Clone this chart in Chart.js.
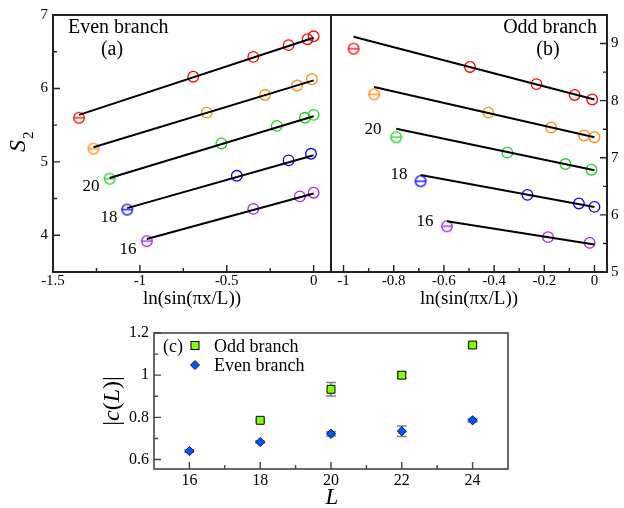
<!DOCTYPE html>
<html>
<head>
<meta charset="utf-8">
<script src="https://cdn.jsdelivr.net/npm/chart.js@4.4.1/dist/chart.umd.min.js"></script>
<style>
  html, body { margin: 0; padding: 0; background: #fff; }
  #wrap { position: relative; width: 624px; height: 508px; }
  canvas { position: absolute; left: 0; top: 0; }
</style>
</head>
<body>
<div id="wrap">
  <canvas id="chartA" width="624" height="508"></canvas>
  <canvas id="chartB" width="624" height="508"></canvas>
  <canvas id="chartC" width="624" height="508"></canvas>
</div>
<script>
// system sizes, top curve first
const sizes = [24, 22, 20, 18, 16];

// (a) even branch: x = ln(sin(pi x/L)), y = S2
const evenX24 = [-1.35, -0.693, -0.347, -0.144, -0.035, 0];
const evenY24 = [5.60, 6.16, 6.43, 6.59, 6.67, 6.71];
const evenX22 = [-1.267, -0.615, -0.280, -0.095, -0.010];
const evenY22 = [5.18, 5.67, 5.91, 6.04, 6.125];
const evenX20 = [-1.174, -0.531, -0.212, -0.050, 0];
const evenY20 = [4.77, 5.25, 5.49, 5.60, 5.64];
const evenX18 = [-1.073, -0.442, -0.144, -0.015];
const evenY18 = [4.35, 4.81, 5.02, 5.11];
const evenX16 = [-0.960, -0.347, -0.079, 0];
const evenY16 = [3.92, 4.36, 4.53, 4.58];
// fitted lines, y at first x and at x = 0
const evenFit24 = [5.64, 6.69];
const evenFit22 = [5.20, 6.11];
const evenFit20 = [4.78, 5.62];
const evenFit18 = [4.37, 5.09];
const evenFit16 = [3.95, 4.57];

// (b) odd branch
const oddX24 = [-0.960, -0.496, -0.231, -0.079, -0.009];
const oddY24 = [8.91, 8.59, 8.29, 8.10, 8.02];
const oddX22 = [-0.878, -0.423, -0.173, -0.041, 0];
const oddY22 = [8.11, 7.79, 7.53, 7.39, 7.36];
const oddX20 = [-0.790, -0.347, -0.116, -0.012];
const oddY20 = [7.36, 7.09, 6.89, 6.79];
const oddX18 = [-0.693, -0.267, -0.062, 0];
const oddY18 = [6.59, 6.35, 6.20, 6.14];
const oddX16 = [-0.588, -0.185, -0.019];
const oddY16 = [5.80, 5.61, 5.51];
const oddFit24 = [9.12, 8.02];
const oddFit22 = [8.24, 7.36];
const oddFit20 = [7.51, 6.78];
const oddFit18 = [6.70, 6.14];
const oddFit16 = [5.89, 5.48];

// (c) |c(L)|
const cOddL = [18, 20, 22, 24];
const cOdd = [0.786, 0.933, 1.0, 1.143];
const cOddErr = [0.006, 0.032, 0.015, 0.007];
const cEvenL = [16, 18, 20, 22, 24];
const cEven = [0.640, 0.683, 0.722, 0.734, 0.786];
const cEvenErr = [0.005, 0.005, 0.010, 0.025, 0.008];

// ticks
const aTicksX = [-1.5, -1, -0.5, 0], aMinorX = [-1.25, -0.75, -0.25];
const aTicksY = [4, 5, 6, 7], aMinorY = [4.5, 5.5, 6.5];
const bTicksX = [-1, -0.8, -0.6, -0.4, -0.2, 0], bMinorX = [-0.9, -0.7, -0.5, -0.3, -0.1];
const bTicksY = [5, 6, 7, 8, 9], bMinorY = [5.5, 6.5, 7.5, 8.5];
const cTicksX = [16, 18, 20, 22, 24], cMinorX = [17, 19, 21, 23];
const cTicksY = [0.6, 0.8, 1, 1.2], cMinorY = [0.7, 0.9, 1.1];

const colors = ['#ff0000', '#ff8c00', '#22cc22', '#0000ff', '#a020f0'];
const serif = "'Liberation Serif', 'DejaVu Serif', serif";

Chart.defaults.font.family = serif;
Chart.defaults.color = '#000';

// circle with a dash through it (first point of each curve)
function barCircle(color) {
  const c = document.createElement('canvas');
  c.width = c.height = 14;
  const g = c.getContext('2d');
  g.strokeStyle = color;
  g.lineWidth = 1.3;
  g.beginPath(); g.arc(7, 7, 5.3, 0, Math.PI * 2); g.stroke();
  g.beginPath(); g.moveTo(1.7, 7); g.lineTo(12.3, 7); g.stroke();
  return c;
}

function pts(xs, ys) {
  return xs.map((x, i) => ({x: x, y: ys[i]}));
}

function branchSets(xsList, ysList, fitList) {
  const sets = [];
  xsList.forEach((xs, k) => {
    sets.push({
      data: [{x: xs[0], y: fitList[k][0]}, {x: 0, y: fitList[k][1]}],
      showLine: true, borderColor: '#000', borderWidth: 2, pointRadius: 0
    });
  });
  xsList.forEach((xs, k) => {
    const dash = barCircle(colors[k]);
    sets.push({
      data: pts(xs, ysList[k]),
      pointStyle: c => c.dataIndex === 0 ? dash : 'circle',
      pointRadius: 5.3, borderWidth: 1.3,
      borderColor: colors[k], backgroundColor: 'rgba(0,0,0,0)'
    });
  });
  return sets;
}

function fixTicks(vals) {
  return s => { s.ticks = vals.map(v => ({value: v})); };
}

// frame, inward ticks and tick labels, placed with the chart's scales
function frameTicks(minorX, minorY, yRight, color, width, font, xLabelY, yLabelGap) {
  return {
    id: 'frameTicks',
    afterDatasetsDraw(chart) {
      const {ctx, chartArea: a} = chart;
      const sx = chart.scales.x, sy = chart.scales.y;
      ctx.save();
      ctx.strokeStyle = color;
      ctx.lineWidth = 1.4;
      ctx.beginPath();
      const xt = (v, len) => {
        const p = sx.getPixelForValue(v);
        ctx.moveTo(p, a.bottom); ctx.lineTo(p, a.bottom - len);
      };
      const yt = (v, len) => {
        const p = sy.getPixelForValue(v);
        if (yRight) { ctx.moveTo(a.right, p); ctx.lineTo(a.right - len, p); }
        else { ctx.moveTo(a.left, p); ctx.lineTo(a.left + len, p); }
      };
      sx.ticks.forEach(t => xt(t.value, 7));
      minorX.forEach(v => xt(v, 4));
      sy.ticks.forEach(t => yt(t.value, 7));
      minorY.forEach(v => yt(v, 4));
      ctx.stroke();
      ctx.lineWidth = width;
      ctx.strokeRect(a.left, a.top, a.right - a.left, a.bottom - a.top);

      ctx.fillStyle = '#000';
      ctx.font = font + 'px ' + serif;
      ctx.textBaseline = 'middle';
      ctx.textAlign = 'center';
      sx.ticks.forEach(t => ctx.fillText(String(t.value), sx.getPixelForValue(t.value), xLabelY));
      ctx.textAlign = yRight ? 'left' : 'right';
      const lx = yRight ? a.right + yLabelGap : a.left - yLabelGap;
      sy.ticks.forEach(t => ctx.fillText(String(t.value), lx, sy.getPixelForValue(t.value)));
      ctx.restore();
    }
  };
}

function textPlugin(draw) {
  return { id: 'texts', afterDraw(chart) { const ctx = chart.ctx; ctx.save(); ctx.fillStyle = '#000'; draw(ctx, chart); ctx.restore(); } };
}

function txt(ctx, s, x, y, size, align, style) {
  ctx.font = (style ? style + ' ' : '') + size + 'px ' + serif;
  ctx.textAlign = align || 'center';
  ctx.textBaseline = 'middle';
  ctx.fillText(s, x, y);
}

// draw parts with mixed italic, centred on x
function mixed(ctx, parts, x, y, size) {
  let w = 0;
  parts.forEach(p => { ctx.font = (p[1] ? 'italic ' : '') + size + 'px ' + serif; w += ctx.measureText(p[0]).width; });
  let cx = x - w / 2;
  ctx.textAlign = 'left';
  ctx.textBaseline = 'middle';
  parts.forEach(p => {
    ctx.font = (p[1] ? 'italic ' : '') + size + 'px ' + serif;
    ctx.fillText(p[0], cx, y);
    cx += ctx.measureText(p[0]).width;
  });
}

function baseScales(xr, yr, yPos, xTicks, yTicks) {
  return {
    x: {
      type: 'linear', position: 'bottom', min: xr[0], max: xr[1],
      grid: {display: false}, border: {display: false},
      afterBuildTicks: fixTicks(xTicks),
      afterFit: s => { s.height = 0; },
      ticks: {display: false}
    },
    y: {
      type: 'linear', position: yPos, min: yr[0], max: yr[1],
      grid: {display: false}, border: {display: false},
      afterBuildTicks: fixTicks(yTicks),
      afterFit: s => { s.width = 0; },
      ticks: {display: false}
    }
  };
}

const common = {
  responsive: false, animation: false, devicePixelRatio: 1,
  plugins: {legend: {display: false}, tooltip: {enabled: false}}
};

// (a)
new Chart(document.getElementById('chartA'), {
  type: 'scatter',
  data: {datasets: branchSets([evenX24, evenX22, evenX20, evenX18, evenX16],
                              [evenY24, evenY22, evenY20, evenY18, evenY16],
                              [evenFit24, evenFit22, evenFit20, evenFit18, evenFit16])},
  options: Object.assign({}, common, {
    layout: {autoPadding: false, padding: {left: 53, right: 293, top: 15, bottom: 236}},
    scales: baseScales([-1.5, 0.1], [3.5, 7], 'left', aTicksX, aTicksY)
  }),
  plugins: [frameTicks(aMinorX, aMinorY, false, '#222', 2, 15, 281, 5), textPlugin((ctx, chart) => {
    txt(ctx, 'Even branch', 68, 28, 20, 'left');
    txt(ctx, '(a)', 112, 50, 20);
    txt(ctx, String(sizes[2]), 91, 187, 17);
    txt(ctx, String(sizes[3]), 109, 218, 17);
    txt(ctx, String(sizes[4]), 128, 250, 17);
    const a = chart.chartArea;
    txt(ctx, 'ln(sin(\u03c0x/L))', (a.left + a.right) / 2, 299, 19);
    ctx.save();
    ctx.translate(25, 152);
    ctx.rotate(-Math.PI / 2);
    ctx.font = 'italic 24px ' + serif;
    ctx.textAlign = 'left';
    ctx.textBaseline = 'alphabetic';
    ctx.fillText('S', 0, 0);
    const w = ctx.measureText('S').width;
    ctx.font = '15px ' + serif;
    ctx.fillText('2', w + 1, 8);
    ctx.restore();
  })]
});

// (b)
new Chart(document.getElementById('chartB'), {
  type: 'scatter',
  data: {datasets: branchSets([oddX24, oddX22, oddX20, oddX18, oddX16],
                              [oddY24, oddY22, oddY20, oddY18, oddY16],
                              [oddFit24, oddFit22, oddFit20, oddFit18, oddFit16])},
  options: Object.assign({}, common, {
    layout: {autoPadding: false, padding: {left: 331, right: 17, top: 15, bottom: 236}},
    scales: baseScales([-1.05, 0.05], [5, 9.5], 'right', bTicksX, bTicksY)
  }),
  plugins: [frameTicks(bMinorX, bMinorY, true, '#222', 2, 15, 281, 4), textPlugin((ctx, chart) => {
    txt(ctx, 'Odd branch', 597, 28, 20, 'right');
    txt(ctx, '(b)', 548, 50, 20);
    txt(ctx, String(sizes[2]), 373, 130, 17);
    txt(ctx, String(sizes[3]), 399, 175, 17);
    txt(ctx, String(sizes[4]), 425, 222, 17);
    const a = chart.chartArea;
    txt(ctx, 'ln(sin(\u03c0x/L))', (a.left + a.right) / 2, 299, 19);
  })]
});

// (c)
const errorBars = {
  id: 'errorBars',
  beforeDatasetsDraw(chart) {
    const ctx = chart.ctx, sx = chart.scales.x, sy = chart.scales.y;
    ctx.save();
    ctx.strokeStyle = '#808080';
    ctx.lineWidth = 1.5;
    chart.data.datasets.forEach(ds => {
      ds.data.forEach((p, i) => {
        const e = ds.errors[i];
        const px = sx.getPixelForValue(p.x);
        const y1 = sy.getPixelForValue(p.y - e), y2 = sy.getPixelForValue(p.y + e);
        ctx.beginPath();
        ctx.moveTo(px, y1); ctx.lineTo(px, y2);
        ctx.moveTo(px - 5, y1); ctx.lineTo(px + 5, y1);
        ctx.moveTo(px - 5, y2); ctx.lineTo(px + 5, y2);
        ctx.stroke();
      });
    });
    ctx.restore();
  }
};

new Chart(document.getElementById('chartC'), {
  type: 'scatter',
  data: {datasets: [
    {label: 'Odd branch', data: pts(cOddL, cOdd), errors: cOddErr, pointStyle: 'rect', pointRadius: 5.6,
     backgroundColor: '#80ff00', borderColor: '#000', borderWidth: 1},
    {label: 'Even branch', data: pts(cEvenL, cEven), errors: cEvenErr, pointStyle: 'rectRot', pointRadius: 4.6,
     backgroundColor: '#0055ff', borderColor: '#001a4d', borderWidth: 1}
  ]},
  options: Object.assign({}, common, {
    layout: {autoPadding: false, padding: {left: 154, right: 116, top: 333, bottom: 39}},
    scales: baseScales([15, 25], [0.555, 1.2], 'left', cTicksX, cTicksY)
  }),
  plugins: [errorBars, frameTicks(cMinorX, cMinorY, false, '#444', 1.6, 16, 481, 5), textPlugin((ctx, chart) => {
    txt(ctx, '(c)', 163, 347, 18, 'left');
    // legend glyphs
    ctx.fillStyle = '#80ff00'; ctx.strokeStyle = '#000'; ctx.lineWidth = 1;
    ctx.fillRect(191, 341.5, 8, 8); ctx.strokeRect(191, 341.5, 8, 8);
    ctx.fillStyle = '#0055ff'; ctx.strokeStyle = '#001a4d';
    ctx.beginPath();
    ctx.moveTo(195, 360.5); ctx.lineTo(199.5, 365); ctx.lineTo(195, 369.5); ctx.lineTo(190.5, 365); ctx.closePath();
    ctx.fill(); ctx.stroke();
    ctx.fillStyle = '#000';
    txt(ctx, 'Odd branch', 214, 347, 18, 'left');
    txt(ctx, 'Even branch', 214, 366, 18, 'left');
    ctx.save();
    ctx.translate(113, 401);
    ctx.rotate(-Math.PI / 2);
    mixed(ctx, [['|', false], ['c', true], ['(', false], ['L', true], [')', false], ['|', false]], 0, 0, 24);
    ctx.restore();
    txt(ctx, 'L', 332, 498, 23, 'center', 'italic');
  })]
});
</script>
</body>
</html>
